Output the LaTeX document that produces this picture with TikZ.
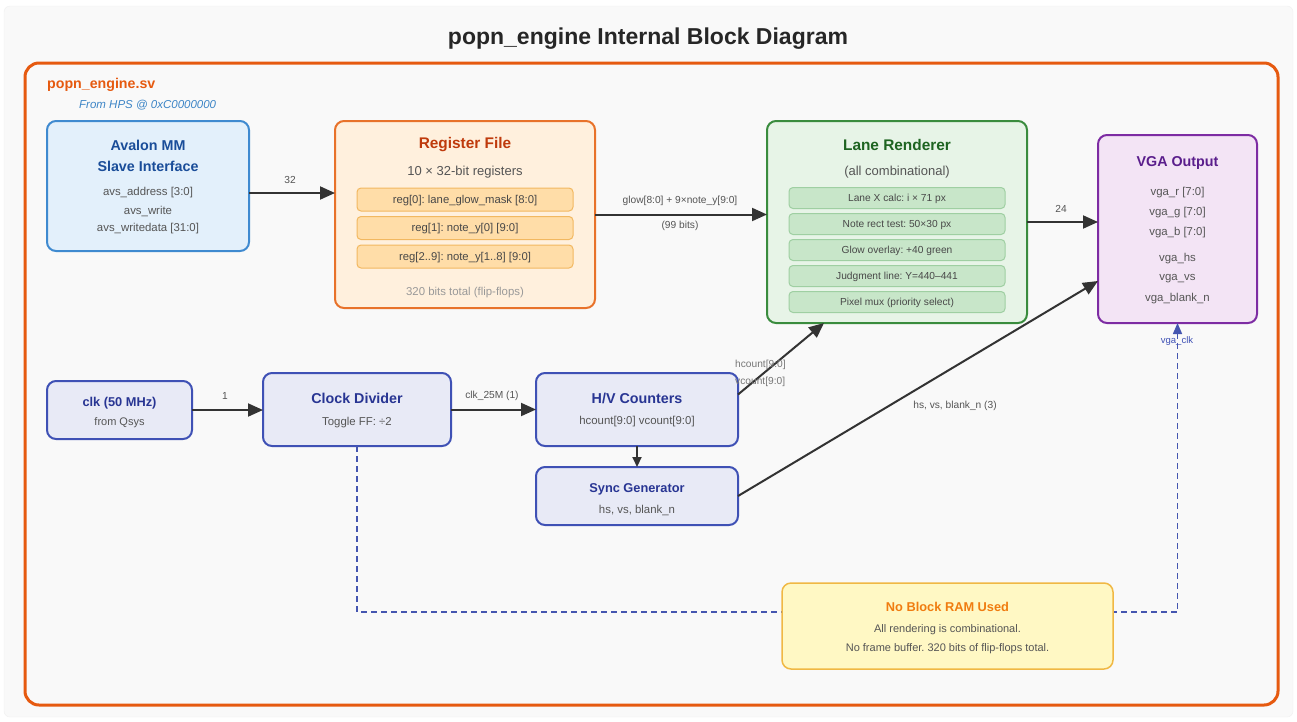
\documentclass[tikz,border=0pt]{standalone}
\usepackage{fontspec}
\setmainfont{Liberation Sans}
\usetikzlibrary{arrows.meta,calc}
\frenchspacing
\definecolor{framec}{HTML}{E65A10}
\definecolor{hpsblue}{HTML}{3D85C6}
\definecolor{avfill}{HTML}{E3F0FB}
\definecolor{avline}{HTML}{3F8AD0}
\definecolor{avtitle}{HTML}{1A4D99}
\definecolor{rgfill}{HTML}{FFF0DD}
\definecolor{rgline}{HTML}{E8722A}
\definecolor{rgtitle}{HTML}{BF3A0C}
\definecolor{rgrowf}{HTML}{FFDDA8}
\definecolor{rgrowl}{HTML}{F2B860}
\definecolor{lnfill}{HTML}{E7F4E7}
\definecolor{lnline}{HTML}{3A8C3E}
\definecolor{lntitle}{HTML}{1E6421}
\definecolor{lnrowf}{HTML}{C8E6C9}
\definecolor{lnrowl}{HTML}{9FCFA2}
\definecolor{vgfill}{HTML}{F3E4F5}
\definecolor{vgline}{HTML}{7D2CA3}
\definecolor{vgtitle}{HTML}{5A1E8C}
\definecolor{infill}{HTML}{E8EAF6}
\definecolor{inline}{HTML}{3F51B5}
\definecolor{intitle}{HTML}{283593}
\definecolor{ylfill}{HTML}{FFF8C4}
\definecolor{ylline}{HTML}{F0B844}
\definecolor{yltitle}{HTML}{F07C10}
\definecolor{bodyc}{HTML}{555555}
\definecolor{lightc}{HTML}{999999}
\definecolor{arrc}{HTML}{333333}
\definecolor{bgc}{HTML}{F9F9F9}
\tikzset{
  blk/.style={draw, rounded corners=9pt, line width=2pt, inner sep=0pt, outer sep=0pt},
  row/.style={draw, rounded corners=4pt, line width=1pt, inner sep=0pt, outer sep=0pt},
  ttl/.style={font=\fontsize{14.3}{16}\selectfont\bfseries, inner sep=0pt},
  bigttl/.style={font=\fontsize{15.4}{17}\selectfont\bfseries, inner sep=0pt},
  midttl/.style={font=\fontsize{12.8}{15}\selectfont\bfseries, inner sep=0pt},
  body/.style={font=\fontsize{11.4}{13}\selectfont, text=bodyc, inner sep=0pt},
  sub/.style={font=\fontsize{13}{15}\selectfont, text=bodyc, inner sep=0pt},
  rowtxt/.style={font=\fontsize{11.3}{13}\selectfont, text=bodyc!85!black, inner sep=0pt},
  lrowtxt/.style={font=\fontsize{10.2}{12}\selectfont, text=bodyc!85!black, inner sep=0pt},
  elabel/.style={font=\fontsize{10.2}{12}\selectfont, text=bodyc, inner sep=0pt},
  conn/.style={draw=arrc, line width=2pt, -{Triangle[length=15pt,width=13pt]}},
  clkconn/.style={draw=inline!90!gray, line width=1.5pt, dash pattern=on 6pt off 4pt, -{Triangle[length=11pt,width=9pt]}},
}
\begin{document}
\begin{tikzpicture}[x=1pt,y=-1pt]
\useasboundingbox (0,0) rectangle (1297,721);
\fill[white] (0,0) rectangle (1297,721);
\draw[fill=bgc, draw=black!6, rounded corners=6pt] (4,6) rectangle (1293,717);

\node[font=\fontsize{23}{26}\selectfont\bfseries, text=black!85, inner sep=0pt] (title) at (648,39) {popn\_engine Internal Block Diagram};

\draw[framec, line width=3pt, rounded corners=14pt] (25,63) rectangle (1278,705);
\node[font=\fontsize{14.2}{16}\selectfont\bfseries, text=framec, anchor=west, inner sep=0pt] (modname) at (47,85) {popn\_engine.sv};
\node[font=\fontsize{11.5}{13}\selectfont\itshape, text=hpsblue, anchor=west, inner sep=0pt] (hps) at (79,105.5) {From HPS @ 0xC0000000};

% dashed clock line (behind boxes)
\node[blk, draw=inline, fill=infill, minimum width=188pt, minimum height=73pt] (cdiv) at (357,409.5) {};
\node[blk, draw=vgline, fill=vgfill, minimum width=159pt, minimum height=188pt] (vga) at (1177.5,229) {};
\coordinate (d1) at (357,612);
\coordinate (d2) at (1177.5,612);
\draw[clkconn] (cdiv.south) -- (d1) -- (d2) -- (vga.south);
\node[font=\fontsize{9.5}{11}\selectfont, text=inline, inner sep=0pt] (vclk) at (1177,341) {vga\_clk};

% boxes
\node[blk, draw=avline, fill=avfill, minimum width=202pt, minimum height=130pt] (avalon) at (148,186) {};
\node[blk, draw=rgline, fill=rgfill, minimum width=260pt, minimum height=187pt] (reg) at (465,214.5) {};
\node[blk, draw=lnline, fill=lnfill, minimum width=260pt, minimum height=202pt] (lane) at (897,222) {};
\node[blk, draw=inline, fill=infill, minimum width=145pt, minimum height=58pt] (clk) at (119.5,410) {};
\node[blk, draw=inline, fill=infill, minimum width=202pt, minimum height=73pt] (hv) at (637,409.5) {};
\node[blk, draw=inline, fill=infill, minimum width=202pt, minimum height=58pt] (sync) at (637,496) {};
\node[blk, draw=ylline, fill=ylfill, line width=1.5pt, minimum width=331pt, minimum height=86pt] (ram) at (947.5,626) {};

% Avalon text
\node[ttl, text=avtitle] (av1) at (148,145) {Avalon MM};
\node[ttl, text=avtitle] (av2) at (148,166.5) {Slave Interface};
\node[body] (av3) at (148,193) {avs\_address [3:0]};
\node[body] (av4) at (148,211) {avs\_write};
\node[body] (av5) at (148,229) {avs\_writedata [31:0]};

% Register file
\node[bigttl, text=rgtitle] (rg1) at (465,145) {Register File};
\node[sub] (rg2) at (465,172) {10 × 32-bit registers};
\node[row, draw=rgrowl, fill=rgrowf, minimum width=216pt, minimum height=23pt] (r0) at (465,199.5) {};
\node[row, draw=rgrowl, fill=rgrowf, minimum width=216pt, minimum height=23pt] (r1) at (465,228) {};
\node[row, draw=rgrowl, fill=rgrowf, minimum width=216pt, minimum height=23pt] (r2) at (465,256.5) {};
\node[rowtxt] (r0t) at (465,200.5) {reg[0]: lane\_glow\_mask [8:0]};
\node[rowtxt] (r1t) at (465,229) {reg[1]: note\_y[0] [9:0]};
\node[rowtxt] (r2t) at (465,257.5) {reg[2..9]: note\_y[1..8] [9:0]};
\node[body, text=lightc] (rg3) at (465,293) {320 bits total (flip-flops)};

% Lane renderer
\node[bigttl, text=lntitle] (ln1) at (897,145) {Lane Renderer};
\node[sub] (ln2) at (897,172) {(all combinational)};
\node[row, draw=lnrowl, fill=lnrowf, minimum width=216pt, minimum height=21pt] (l0) at (897,198) {};
\node[row, draw=lnrowl, fill=lnrowf, minimum width=216pt, minimum height=21pt] (l1) at (897,224) {};
\node[row, draw=lnrowl, fill=lnrowf, minimum width=216pt, minimum height=21pt] (l2) at (897,250) {};
\node[row, draw=lnrowl, fill=lnrowf, minimum width=216pt, minimum height=21pt] (l3) at (897,276) {};
\node[row, draw=lnrowl, fill=lnrowf, minimum width=216pt, minimum height=21pt] (l4) at (897,302) {};
\node[lrowtxt] (l0t) at (897,199) {Lane X calc: i × 71 px};
\node[lrowtxt] (l1t) at (897,225) {Note rect test: 50×30 px};
\node[lrowtxt] (l2t) at (897,251) {Glow overlay: +40 green};
\node[lrowtxt] (l3t) at (897,277) {Judgment line: Y=440–441};
\node[lrowtxt] (l4t) at (897,303) {Pixel mux (priority select)};

% VGA output
\node[ttl, text=vgtitle] (vg0) at (1177.5,163) {VGA Output};
\node[body] (vg1) at (1177.5,193) {vga\_r [7:0]};
\node[body] (vg2) at (1177.5,213) {vga\_g [7:0]};
\node[body] (vg3) at (1177.5,233) {vga\_b [7:0]};
\node[body] (vg4) at (1177.5,259) {vga\_hs};
\node[body] (vg5) at (1177.5,279) {vga\_vs};
\node[body] (vg6) at (1177.5,299) {vga\_blank\_n};

% clk
\node[midttl, text=intitle] (ck1) at (119.5,403) {clk (50 MHz)};
\node[body, font=\fontsize{11}{13}\selectfont] (ck2) at (119.5,423) {from Qsys};

% clock divider
\node[ttl, text=intitle] (cd1) at (357,398) {Clock Divider};
\node[body] (cd2) at (357,423) {Toggle FF: ÷2};

% H/V counters
\node[ttl, text=intitle] (hv1) at (637,398) {H/V Counters};
\node[body] (hv2) at (637,422) {hcount[9:0] vcount[9:0]};

% Sync generator
\node[midttl, text=intitle] (sy1) at (637,489) {Sync Generator};
\node[body] (sy2) at (637,510) {hs, vs, blank\_n};

% No block RAM
\node[midttl, text=yltitle] (ram1) at (947.5,607) {No Block RAM Used};
\node[body, font=\fontsize{11}{13}\selectfont] (ram2) at (947.5,630) {All rendering is combinational.};
\node[body, font=\fontsize{11}{13}\selectfont] (ram3) at (947.5,649) {No frame buffer. 320 bits of flip-flops total.};

% connectors
\draw[conn] ([yshift=-7pt]avalon.east) -- ([yshift=-7pt]avalon.east -| reg.west);
\node[elabel] (e32) at (290,180) {32};
\draw[conn] (reg.east) -- (reg.east -| lane.west);
\node[elabel] (eglow) at (680,201) {glow[8:0] + 9×note\_y[9:0]};
\node[elabel] (e99) at (680,226) {(99 bits)};
\draw[conn] (lane.east) -- (lane.east -| vga.west);
\node[elabel] (e24) at (1061,209) {24};
\draw[conn] (clk.east) -- (clk.east -| cdiv.west);
\node[elabel] (e1) at (225,396) {1};
\draw[conn] (cdiv.east) -- (hv.west);
\node[elabel] (e25) at (492,396) {clk\_25M (1)};
\draw[draw=arrc, line width=2pt, -{Triangle[length=10pt,width=9pt]}] (hv.south) -- (sync.north);
\draw[conn] ([yshift=15pt]hv.east) -- ([xshift=57pt]lane.south west);
\node[elabel, anchor=west, text=bodyc!80] (ehc) at (735,365) {hcount[9:0]};
\node[elabel, anchor=west, text=bodyc!80] (evc) at (735,382) {vcount[9:0]};
\draw[conn] (sync.east) -- ([yshift=-52pt]vga.west);
\node[elabel] (ehs) at (955,406) {hs, vs, blank\_n (3)};
\end{tikzpicture}
\end{document}
